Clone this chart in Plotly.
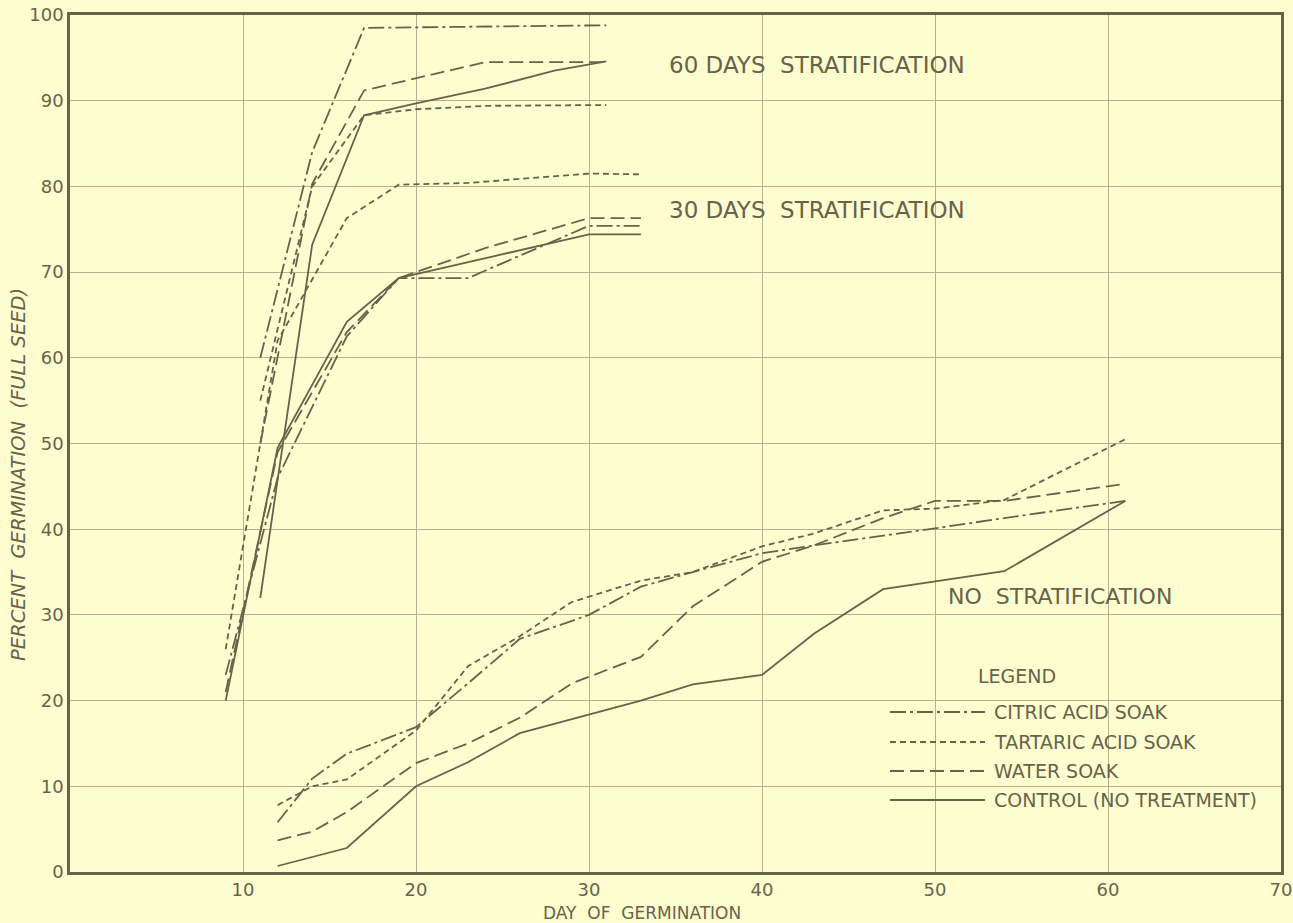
import plotly.graph_objects as go

# ---------------- data ----------------
# 60 days stratification
d60_citric = [11, 14, 17, 31]
p60_citric = [60, 84, 98.5, 98.8]
d60_tartaric = [11, 14, 17, 20, 24, 31]
p60_tartaric = [55, 80, 88.3, 89.0, 89.4, 89.5]
d60_water = [11, 14, 17, 24, 31]
p60_water = [50, 80.3, 91.2, 94.5, 94.5]
d60_control = [11, 14, 17, 20, 24, 28, 31]
p60_control = [32, 73.2, 88.3, 89.7, 91.4, 93.5, 94.6]

# 30 days stratification
d30_citric = [9, 12, 16, 19, 23, 30, 33]
p30_citric = [23, 46, 62.5, 69.3, 69.3, 75.4, 75.4]
d30_tartaric = [9, 12, 16, 19, 23, 30, 33]
p30_tartaric = [26, 62, 76.3, 80.2, 80.4, 81.5, 81.4]
d30_water = [9, 12, 16, 19, 24, 30, 33]
p30_water = [21, 49, 63, 69.3, 72.8, 76.3, 76.3]
d30_control = [9, 12, 16, 19, 30, 33]
p30_control = [20, 49.5, 64.2, 69.3, 74.4, 74.4]

# No stratification
d0_citric = [12, 14, 16, 20, 23, 26, 30, 33, 36, 40, 43, 47, 50, 54, 61]
p0_citric = [5.8, 10.9, 13.8, 16.9, 22, 27.2, 30, 33.3, 35, 37.2, 38.1, 39.2, 40.1, 41.3, 43.3]
d0_tartaric = [12, 14, 16, 20, 23, 26, 29, 33, 36, 40, 43, 47, 50, 54, 61]
p0_tartaric = [7.8, 10, 10.8, 16.5, 24, 27.5, 31.5, 34, 35, 38, 39.5, 42.2, 42.4, 43.4, 50.5]
d0_water = [12, 14, 16, 20, 23, 26, 29, 33, 36, 40, 43, 47, 50, 54, 61]
p0_water = [3.7, 4.7, 7, 12.7, 15, 18, 22, 25.1, 31, 36.2, 38.1, 41.3, 43.3, 43.3, 45.3]
d0_control = [12, 16, 20, 23, 26, 30, 33, 36, 40, 43, 47, 54, 61]
p0_control = [0.7, 2.8, 10, 12.8, 16.2, 18.4, 20, 21.9, 23, 27.8, 33, 35.1, 43.3]

x_ticks = [10, 20, 30, 40, 50, 60, 70]
y_ticks = [0, 10, 20, 30, 40, 50, 60, 70, 80, 90, 100]

legend_names = ["CITRIC ACID SOAK", "TARTARIC ACID SOAK", "WATER SOAK", "CONTROL (NO TREATMENT)"]

# ---------------- styling ----------------
BG = "#FEFDD0"
INK = "#67634B"
GRID = "#B5B192"
FONT = "DejaVu Sans"
DASH = {
    "citric": "16px,4px,3px,4px",
    "tartaric": "6px,4px",
    "water": "14px,6px",
    "control": "solid",
}
W, H = 1293, 923
ML, MR, MT, MB = 70, 12, 15, 51
PW, PH = W - ML - MR, H - MT - MB


def px_x(px):
    return (px - ML) / PW


def px_y(py):
    return (H - MB - py) / PH


fig = go.Figure()

series = [
    (d60_citric, p60_citric, "citric"), (d60_tartaric, p60_tartaric, "tartaric"),
    (d60_water, p60_water, "water"), (d60_control, p60_control, "control"),
    (d30_citric, p30_citric, "citric"), (d30_tartaric, p30_tartaric, "tartaric"),
    (d30_water, p30_water, "water"), (d30_control, p30_control, "control"),
    (d0_citric, p0_citric, "citric"), (d0_tartaric, p0_tartaric, "tartaric"),
    (d0_water, p0_water, "water"), (d0_control, p0_control, "control"),
]
for xs, ys, kind in series:
    fig.add_trace(go.Scatter(
        x=xs, y=ys, mode="lines", showlegend=False, hoverinfo="skip",
        line=dict(color=INK, width=1.8, dash=DASH[kind]),
    ))


# blank boxes behind labels (hide grid, like the original drawing)
def blank(x0, x1, y0, y1):
    return dict(type="rect", xref="paper", yref="paper",
                x0=px_x(x0), x1=px_x(x1), y0=px_y(y1), y1=px_y(y0),
                fillcolor=BG, line=dict(width=0), layer="below")


shapes = [
    blank(863, 1263, 652, 830),
    blank(640, 1000, 37, 97),
    blank(640, 1000, 185, 240),
    blank(930, 1200, 570, 625),
]

# manual legend
leg_keys = ["citric", "tartaric", "water", "control"]
leg_py = [712, 742, 771, 800]
for k, py in zip(leg_keys, leg_py):
    shapes.append(dict(type="line", xref="paper", yref="paper", x0=px_x(890), x1=px_x(985),
                       y0=px_y(py), y1=px_y(py),
                       line=dict(color=INK, width=1.8, dash=DASH[k])))

annotations = [
    dict(text="LEGEND", xref="paper", yref="paper", x=px_x(1017), y=px_y(676),
         xanchor="center", yanchor="middle",
         showarrow=False, font=dict(size=19, color=INK, family=FONT)),
]
for name, py in zip(legend_names, leg_py):
    annotations.append(dict(text=name, xref="paper", yref="paper", x=px_x(992), y=px_y(py),
                            xanchor="left", yanchor="middle", showarrow=False,
                            font=dict(size=19, color=INK, family=FONT)))

annotations += [
    dict(text="60 DAYS  STRATIFICATION", x=43.2, y=94.2, xref="x", yref="y", showarrow=False,
         xanchor="center", yanchor="middle", font=dict(size=23, color=INK, family=FONT)),
    dict(text="30 DAYS  STRATIFICATION", x=43.2, y=77.3, xref="x", yref="y", showarrow=False,
         xanchor="center", yanchor="middle", font=dict(size=23, color=INK, family=FONT)),
    dict(text="NO  STRATIFICATION", x=57.2, y=32.1, xref="x", yref="y", showarrow=False,
         xanchor="center", yanchor="middle", font=dict(size=22, color=INK, family=FONT)),
    dict(text="<i>PERCENT  GERMINATION  (FULL SEED)</i>", xref="paper", yref="paper",
         x=px_x(19), y=px_y(475), textangle=-90, showarrow=False,
         xanchor="center", yanchor="middle",
         font=dict(size=19.5, color=INK, family=FONT)),
    dict(text="DAY  OF  GERMINATION", xref="paper", yref="paper", x=px_x(642), y=px_y(913),
         xanchor="center", yanchor="middle",
         showarrow=False, font=dict(size=17, color=INK, family=FONT)),
]

fig.update_layout(
    width=W, height=H,
    paper_bgcolor=BG, plot_bgcolor=BG,
    margin=dict(l=ML, r=MR, t=MT, b=MB, autoexpand=False),
    shapes=shapes, annotations=annotations,
    showlegend=False,
    font=dict(family=FONT, color=INK),
)
fig.update_xaxes(
    range=[0, 70], tickvals=x_ticks, ticktext=[str(v) for v in x_ticks],
    showgrid=True, gridcolor=GRID, gridwidth=1,
    showline=True, linecolor=INK, linewidth=2.5, mirror=True,
    ticks="", zeroline=False, tickfont=dict(size=18, color=INK, family=FONT),
)
fig.update_yaxes(
    range=[0, 100], tickvals=y_ticks, ticktext=[str(v) for v in y_ticks],
    showgrid=True, gridcolor=GRID, gridwidth=1,
    showline=True, linecolor=INK, linewidth=2.5, mirror=True,
    ticks="", zeroline=False, tickfont=dict(size=18, color=INK, family=FONT),
)

fig.write_html("out.html", config={"displayModeBar": False},
               post_script="document.body.style.margin='0px';")
